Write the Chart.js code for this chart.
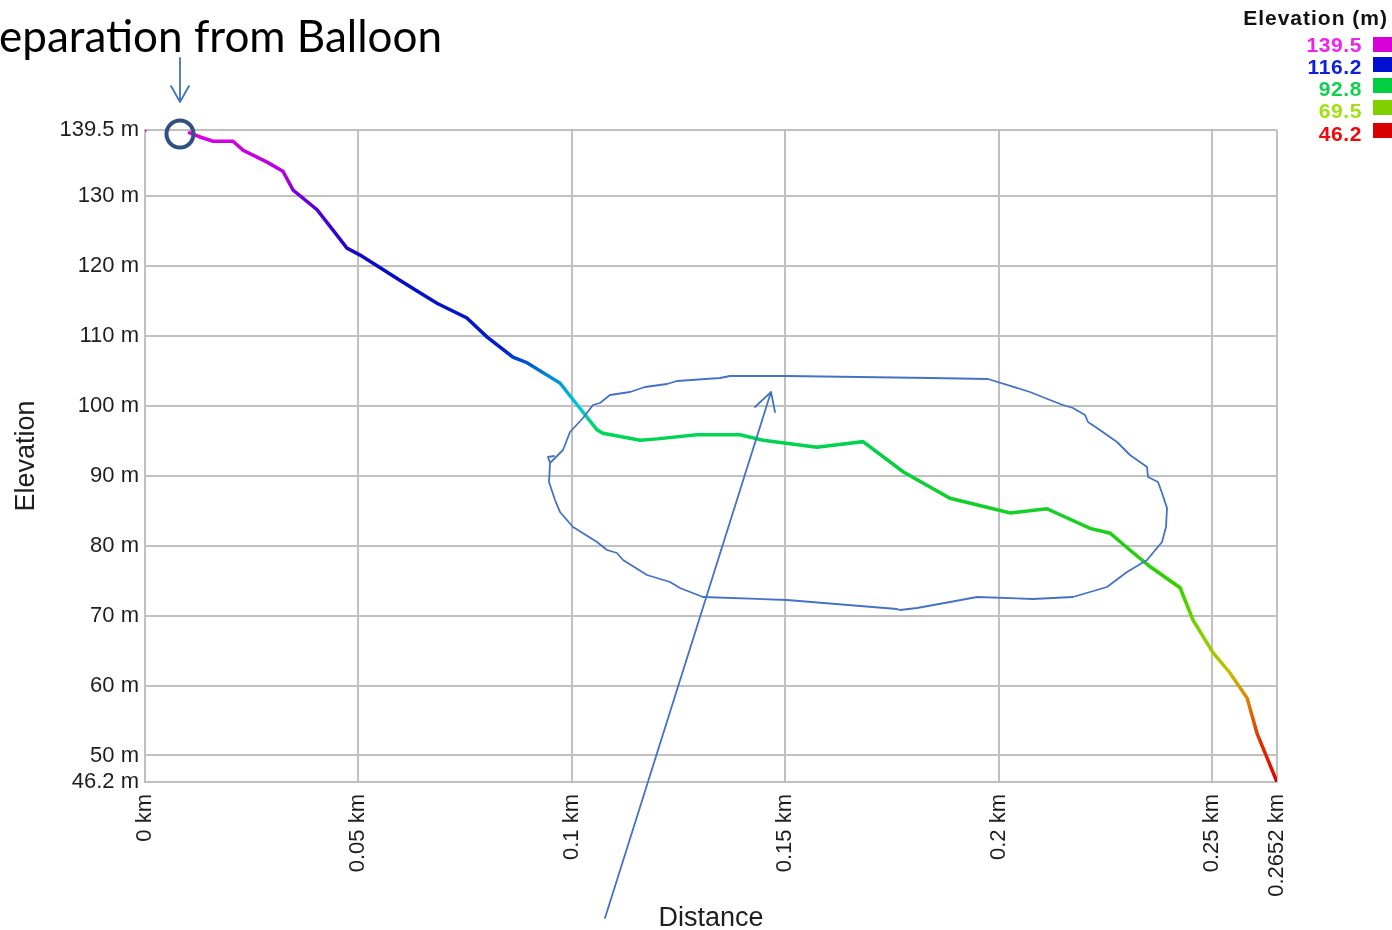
<!DOCTYPE html>
<html>
<head>
<meta charset="utf-8">
<script src="https://cdn.jsdelivr.net/npm/chart.js@4"></script>
<style>
html,body{margin:0;padding:0;background:#fff;overflow:hidden}
#wrap{position:relative;width:1392px;height:930px;overflow:hidden}
#chart{position:absolute;left:0;top:0}
#note{position:absolute;left:-1px;top:10px;font-family:Lato,"Open Sans",sans-serif;font-size:44px;line-height:50px;color:#000;white-space:nowrap}
.lg{position:absolute;font-family:"Liberation Sans",Arial,sans-serif;font-weight:bold;font-size:21px;line-height:24px;white-space:nowrap;text-align:right}
.sq{position:absolute;width:19px;height:15px}
svg{position:absolute;left:0;top:0;pointer-events:none}
</style>
</head>
<body>
<div id="wrap">
<canvas id="chart" width="1392" height="930"></canvas>
<div id="note">eparation from Balloon</div>
<div id="legend"></div>
<svg width="1392" height="930" viewBox="0 0 1392 930">
  <g fill="none" stroke="#4472c4" stroke-width="1.8" stroke-linejoin="round" stroke-linecap="round">
    <path d="M180 58 L180 102 M171 86 L180 102 L189 86"/>
    <path d="M605 918 L771 392 M755 407 L771 392 L775 412"/>
    <path d="M554 456 L548 457 L550 463 L563 450 L570 432 L583 418 L593 405 L600 403 L610 395 L630 392 L645 387 L667 384 L677 381 L720 378 L730 376 L787 376 L930 378 L988 379 L1030 392 L1050 400 L1063 405 L1073 408 L1085 415 L1088 422 L1097 428 L1117 442 L1130 455 L1147 467 L1148 477 L1158 482 L1162 493 L1167 508 L1166 527 L1162 542 L1147 560 L1127 572 L1107 587 L1073 597 L1033 599 L977 597 L950 602 L917 608 L900 610 L897 609 L787 600 L703 597 L680 588 L670 582 L647 575 L623 560 L617 553 L607 550 L597 542 L573 527 L560 512 L555 500 L549 482 L550 463"/>
  </g>
  <circle cx="180" cy="134" r="13.5" fill="none" stroke="#2f5080" stroke-width="4"/>
</svg>
</div>
<script>
// ---- data ----
const distanceKm = [0, 0.005, 0.0101, 0.0129, 0.0159, 0.0206, 0.0230, 0.0286, 0.0323, 0.0347, 0.0403, 0.0440, 0.0473, 0.0504, 0.0551, 0.0597, 0.0644, 0.0684, 0.0754, 0.0801, 0.0862, 0.0895, 0.0972, 0.1003, 0.1059, 0.1073, 0.1160, 0.1200, 0.1293, 0.1394, 0.1448, 0.1511, 0.1574, 0.1612, 0.1682, 0.1776, 0.1839, 0.1886, 0.2027, 0.2113, 0.2214, 0.2261, 0.2315, 0.2355, 0.2425, 0.2455, 0.2502, 0.2542, 0.2582, 0.2605, 0.2652];
const elevationM = [139.5, null, 139.2, 138.5, 137.9, 137.9, 136.6, 134.9, 133.6, 130.9, 128.1, 125.2, 122.6, 121.6, 119.8, 118.0, 116.2, 114.7, 112.6, 109.9, 107.0, 106.2, 103.3, 100.9, 96.6, 96.1, 95.1, 95.3, 95.9, 95.9, 95.1, 94.6, 94.1, 94.4, 94.9, 90.6, 88.4, 86.8, 84.7, 85.3, 82.5, 81.8, 79.0, 77.0, 74.0, 69.4, 64.7, 61.8, 58.2, 53.2, 46.2];
const xTickValues = [0, 0.05, 0.1, 0.15, 0.2, 0.25, 0.2652];
const yTickValues = [46.2, 50, 60, 70, 80, 90, 100, 110, 120, 130, 139.5];
const legendValues = [139.5, 116.2, 92.8, 69.5, 46.2];
const legendTextColors = ['#ee22ee', '#1020e0', '#10d050', '#a0e010', '#ee0a0a'];
const legendBoxColors = ['#d800d8', '#0010d0', '#00d040', '#80d000', '#d80000'];
// elevation -> line colour ramp
const rampElev = [139.5, 133, 128, 120, 108, 104, 100, 97, 92.8, 75, 66, 62, 58, 52, 46.2];
const rampColor = ['#e000e0', '#b000e0', '#5000d0', '#0808c8', '#0020c8', '#0090d8', '#00c8d8', '#00d860', '#00d040', '#30d000', '#90d000', '#c0c000', '#e08000', '#e03000', '#e00000'];

// ---- legend (HTML) ----
const lg = document.getElementById('legend');
const title = document.createElement('div');
title.className = 'lg'; title.textContent = 'Elevation (m)';
title.style.right = '4px'; title.style.top = '6px'; title.style.color = '#111';
title.style.letterSpacing = '1px';
lg.appendChild(title);
const rowBase = [52, 74.5, 96, 118, 141.5];
const boxTop = [37, 57, 78, 100, 123];
legendValues.forEach((v, i) => {
  const t = document.createElement('div');
  t.className = 'lg'; t.textContent = String(v);
  t.style.right = (1392 - 1362) + 'px';
  t.style.top = (rowBase[i] - 19.3) + 'px';
  t.style.color = legendTextColors[i];
  t.style.letterSpacing = '0.6px';
  lg.appendChild(t);
  const s = document.createElement('div');
  s.className = 'sq'; s.style.left = '1373px'; s.style.top = boxTop[i] + 'px';
  s.style.background = legendBoxColors[i];
  lg.appendChild(s);
});

// ---- chart ----
const points = distanceKm.map((d, i) => ({x: d, y: elevationM[i]}));
function lineGradient(ctx) {
  const chart = ctx.chart;
  const area = chart.chartArea;
  if (!area) return '#0000c8';
  const ys = chart.scales.y;
  const g = chart.ctx.createLinearGradient(0, area.top, 0, area.bottom);
  rampElev.forEach((e, i) => {
    const p = (ys.getPixelForValue(e) - area.top) / (area.bottom - area.top);
    g.addColorStop(Math.min(1, Math.max(0, p)), rampColor[i]);
  });
  return g;
}
const axisFont = {family: '"Liberation Sans", Arial, sans-serif', size: 22};
const titleFont = {family: '"Liberation Sans", Arial, sans-serif', size: 27};
const gridColor = '#c0c0c0';

new Chart(document.getElementById('chart'), {
  type: 'line',
  data: {
    datasets: [{
      data: points,
      borderColor: lineGradient,
      borderWidth: 3.5,
      tension: 0,
      spanGaps: false,
      pointRadius: ctx => ctx.dataIndex === 0 ? 2 : 0,
      pointBackgroundColor: '#e000e0',
      pointBorderWidth: 0
    }]
  },
  options: {
    responsive: false,
    devicePixelRatio: 1,
    animation: false,
    layout: {padding: {left: 0, top: 130, right: 115, bottom: -5}},
    plugins: {legend: {display: false}, tooltip: {enabled: false}},
    scales: {
      x: {
        type: 'linear', min: 0, max: 0.2652,
        afterBuildTicks: s => { s.ticks = xTickValues.map(v => ({value: v})); },
        afterFit: s => { s.height = 153; },
        grid: {color: gridColor, lineWidth: 2, drawTicks: false},
        border: {color: gridColor, width: 2},
        ticks: {autoSkip: false, minRotation: 90, maxRotation: 90, padding: 12, color: '#1e1e1e', font: axisFont,
          callback: v => v + ' km'},
        title: {display: true, text: 'Distance', color: '#1e1e1e', font: titleFont, padding: {top: 0, bottom: 0}}
      },
      y: {
        type: 'linear', min: 46.2, max: 139.5,
        afterBuildTicks: s => { s.ticks = yTickValues.map(v => ({value: v})); },
        afterFit: s => { s.width = 145; },
        grid: {color: gridColor, lineWidth: 2, drawTicks: false},
        border: {color: gridColor, width: 2},
        ticks: {autoSkip: false, padding: 6, color: '#1e1e1e', font: axisFont,
          callback: v => v + ' m'},
        title: {display: true, text: 'Elevation', color: '#1e1e1e', font: titleFont, padding: {top: 10, bottom: 0}}
      }
    }
  }
});
</script>
</body>
</html>
